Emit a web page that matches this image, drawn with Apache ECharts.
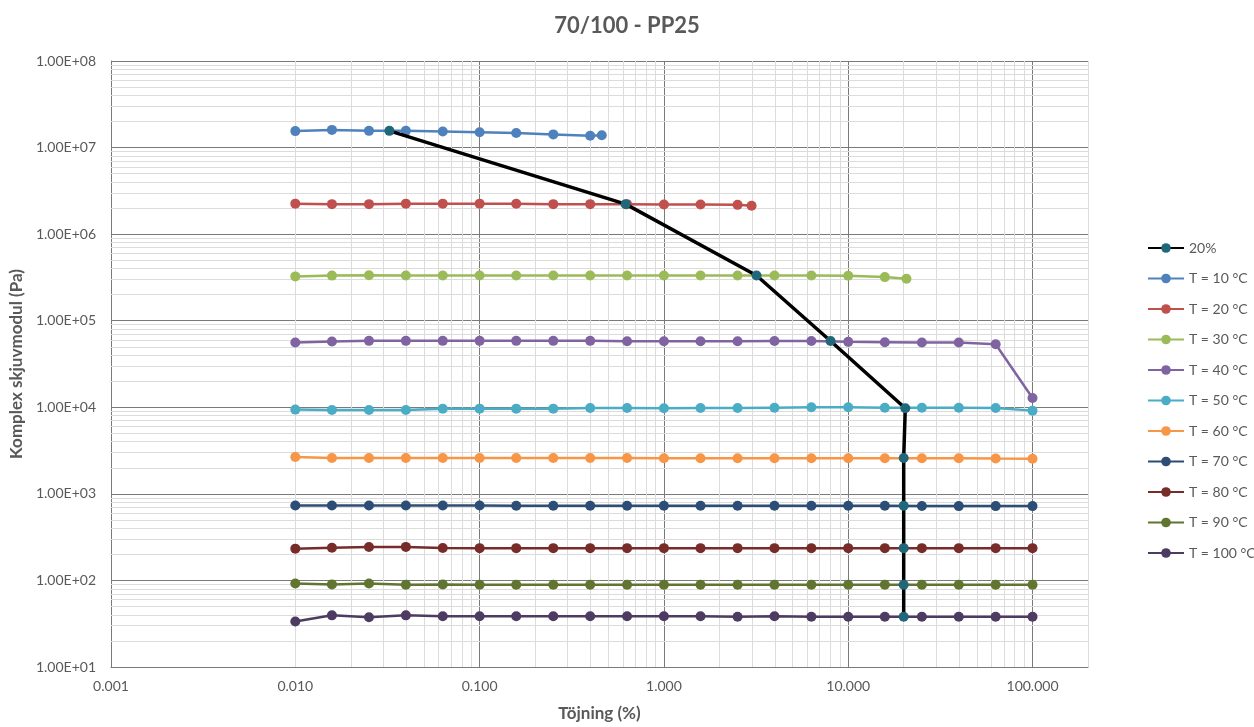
<!DOCTYPE html>
<html>
<head>
<meta charset="utf-8">
<script src="https://cdn.jsdelivr.net/npm/echarts@6/dist/echarts.min.js"></script>
<style>
  html, body { margin: 0; padding: 0; background: #ffffff; }
  #chart { width: 1254px; height: 727px; }
</style>
</head>
<body>
<div id="chart"></div>
<script>
// Strain sweep (%) and complex shear modulus (Pa) per test temperature
const strainFull = [0.01, 0.0158, 0.0251, 0.0398, 0.0631, 0.1, 0.158, 0.251, 0.398, 0.631,
                    1, 1.58, 2.51, 3.98, 6.31, 10, 15.8, 25.1, 39.8, 63.1, 100];
const strainT10 = [0.01, 0.0158, 0.0251, 0.0398, 0.0631, 0.1, 0.158, 0.251, 0.398, 0.46];
const strainT20 = [0.01, 0.0158, 0.0251, 0.0398, 0.0631, 0.1, 0.158, 0.251, 0.398, 0.631,
                   1, 1.58, 2.51, 2.99];
const strainT30 = [0.01, 0.0158, 0.0251, 0.0398, 0.0631, 0.1, 0.158, 0.251, 0.398, 0.631,
                   1, 1.58, 2.51, 3.98, 6.31, 10, 15.8, 20.7];

const gT10 = [1.55e7, 1.60e7, 1.56e7, 1.56e7, 1.53e7, 1.50e7, 1.47e7, 1.42e7, 1.37e7, 1.39e7];
const gT20 = [2.25e6, 2.22e6, 2.22e6, 2.25e6, 2.25e6, 2.25e6, 2.24e6, 2.22e6, 2.22e6, 2.22e6,
              2.20e6, 2.20e6, 2.18e6, 2.13e6];
const gT30 = [3.25e5, 3.32e5, 3.35e5, 3.33e5, 3.33e5, 3.33e5, 3.33e5, 3.33e5, 3.33e5, 3.33e5,
              3.33e5, 3.33e5, 3.33e5, 3.33e5, 3.33e5, 3.30e5, 3.19e5, 3.06e5];
const gT40 = [5.60e4, 5.75e4, 5.85e4, 5.85e4, 5.85e4, 5.85e4, 5.85e4, 5.85e4, 5.85e4, 5.80e4,
              5.80e4, 5.80e4, 5.80e4, 5.84e4, 5.84e4, 5.70e4, 5.65e4, 5.60e4, 5.60e4, 5.35e4, 1.28e4];
const gT50 = [9.40e3, 9.30e3, 9.30e3, 9.30e3, 9.60e3, 9.65e3, 9.65e3, 9.65e3, 9.80e3, 9.80e3,
              9.75e3, 9.80e3, 9.80e3, 9.90e3, 1.00e4, 1.00e4, 9.90e3, 9.90e3, 9.90e3, 9.80e3, 9.15e3];
const gT60 = [2.66e3, 2.60e3, 2.60e3, 2.60e3, 2.60e3, 2.60e3, 2.60e3, 2.60e3, 2.60e3, 2.60e3,
              2.58e3, 2.58e3, 2.58e3, 2.58e3, 2.58e3, 2.58e3, 2.58e3, 2.58e3, 2.58e3, 2.56e3, 2.55e3];
const gT70 = [735, 735, 735, 735, 735, 735, 728, 728, 728, 728,
              728, 728, 728, 728, 728, 728, 728, 725, 722, 722, 722];
const gT80 = [233, 238, 243, 244, 237, 236, 236, 236, 236, 236,
              236, 236, 236, 236, 236, 236, 236, 236, 236, 236, 236];
const gT90 = [92, 90, 92, 89, 90, 89, 89, 89, 89, 89,
              89, 89, 89, 89, 89, 89, 89, 89, 89, 89, 89];
const gT100 = [33.5, 39.5, 37.5, 39.5, 38.5, 38.5, 38.5, 38.5, 38.5, 38.5,
               38.5, 38.5, 38, 38.5, 38, 38, 38, 38, 38, 38, 38];

// 20 % line: modulus at the crossing of each temperature curve
const strain20 = [0.0324, 0.62, 3.18, 8.02, 20.4, 20.0, 20.0, 20.0, 20.0, 20.0];
const g20 = [1.56e7, 2.22e6, 3.33e5, 5.84e4, 9.75e3, 2.60e3, 728, 236, 89, 38];

const seriesNames = ['20%', 'T = 10 °C', 'T = 20 °C', 'T = 30 °C', 'T = 40 °C', 'T = 50 °C',
                     'T = 60 °C', 'T = 70 °C', 'T = 80 °C', 'T = 90 °C', 'T = 100 °C'];

const tempSeries = [
  { name: 'T = 10 °C',  x: strainT10,  y: gT10,  color: '#4F81BD' },
  { name: 'T = 20 °C',  x: strainT20,  y: gT20,  color: '#C0504D' },
  { name: 'T = 30 °C',  x: strainT30,  y: gT30,  color: '#9BBB59' },
  { name: 'T = 40 °C',  x: strainFull, y: gT40,  color: '#8064A2' },
  { name: 'T = 50 °C',  x: strainFull, y: gT50,  color: '#4BACC6' },
  { name: 'T = 60 °C',  x: strainFull, y: gT60,  color: '#F79646' },
  { name: 'T = 70 °C',  x: strainFull, y: gT70,  color: '#2C4D75' },
  { name: 'T = 80 °C',  x: strainFull, y: gT80,  color: '#772C2A' },
  { name: 'T = 90 °C',  x: strainFull, y: gT90,  color: '#5F7530' },
  { name: 'T = 100 °C', x: strainFull, y: gT100, color: '#4D3B62' }
];

const pairs = (xs, ys) => xs.map((x, i) => [x, ys[i]]);

// Minor grid values (2..9 per decade) for both log axes
const minorValues = (fromExp, toExp) => {
  const out = [];
  for (let e = fromExp; e < toExp; e++) {
    for (let k = 2; k <= 9; k++) out.push(+(k * Math.pow(10, e)).toPrecision(3));
  }
  return out;
};
const xMinor = minorValues(-3, 2).concat([200]);
const yMinor = minorValues(1, 8);

const FONT = 'Lato, "Open Sans", sans-serif';
const TEXT = '#595959';
const MAJOR = '#7a7a7a';
const MINOR = '#dcdcdc';

const series = [];

// minor grid lines, kept below all data
series.push({
  name: 'minor-grid',
  type: 'line',
  data: [],
  silent: true,
  z: 1,
  markLine: {
    z: 1,
    silent: true,
    symbol: ['none', 'none'],
    label: { show: false },
    animation: false,
    lineStyle: { color: MINOR, width: 1, type: 'solid' },
    emphasis: { disabled: true },
    data: xMinor.map(v => ({ xAxis: v })).concat(yMinor.map(v => ({ yAxis: v })))
  }
});

tempSeries.forEach(s => {
  series.push({
    name: s.name,
    type: 'line',
    data: pairs(s.x, s.y),
    symbol: 'circle',
    symbolSize: 10,
    z: 3,
    lineStyle: { color: s.color, width: 2.5 },
    itemStyle: { color: s.color, borderWidth: 0 },
    emphasis: { disabled: true }
  });
});

series.push({
  name: '20%',
  type: 'line',
  data: pairs(strain20, g20),
  symbol: 'circle',
  symbolSize: 10,
  z: 5,
  lineStyle: { color: '#000000', width: 3.5 },
  itemStyle: { color: '#21677A', borderWidth: 0 },
  emphasis: { disabled: true }
});

const expLabel = v => {
  const e = Math.round(Math.log10(v));
  const m = v / Math.pow(10, e);
  const sign = e < 0 ? '-' : '+';
  const ae = Math.abs(e);
  return m.toFixed(2) + 'E' + sign + (ae < 10 ? '0' + ae : '' + ae);
};

const chart = echarts.init(document.getElementById('chart'), null, { renderer: 'canvas' });
chart.setOption({
  animation: false,
  backgroundColor: '#ffffff',
  title: {
    text: '70/100 - PP25',
    left: 'center',
    top: 10,
    textStyle: { fontFamily: FONT, fontSize: 22, fontWeight: 'bold', color: TEXT }
  },
  legend: {
    data: seriesNames,
    orient: 'vertical',
    left: 1142,
    top: 236,
    itemWidth: 36,
    itemHeight: 12,
    itemGap: 16.5,
    textStyle: { fontFamily: FONT, fontSize: 14, color: TEXT, lineHeight: 14 }
  },
  grid: { left: 109, right: 166, top: 61, bottom: 58, containLabel: false },
  xAxis: {
    type: 'log',
    logBase: 10,
    min: 0.001,
    max: 200,
    name: 'Töjning (%)',
    nameLocation: 'middle',
    nameGap: 38,
    nameTextStyle: { fontFamily: FONT, fontSize: 17, fontWeight: 'bold', color: TEXT },
    axisLine: { show: true, lineStyle: { color: MAJOR, width: 1 } },
    axisTick: { show: false },
    axisLabel: {
      fontFamily: FONT, fontSize: 14, color: TEXT, margin: 12,
      showMaxLabel: false,
      formatter: v => v.toFixed(3)
    },
    splitLine: {
      show: true,
      lineStyle: { color: [MAJOR, MAJOR, MAJOR, MAJOR, MAJOR, MAJOR, MINOR], width: 1 }
    }
  },
  yAxis: {
    type: 'log',
    logBase: 10,
    min: 10,
    max: 1e8,
    name: 'Komplex skjuvmodul (Pa)',
    nameLocation: 'middle',
    nameGap: 82,
    nameTextStyle: { fontFamily: FONT, fontSize: 17, fontWeight: 'bold', color: TEXT },
    axisLine: { show: true, lineStyle: { color: MAJOR, width: 1 } },
    axisTick: { show: false },
    axisLabel: { fontFamily: FONT, fontSize: 14, color: TEXT, margin: 15, formatter: expLabel },
    splitLine: { show: true, lineStyle: { color: MAJOR, width: 1 } }
  },
  series: series
});
</script>
</body>
</html>
